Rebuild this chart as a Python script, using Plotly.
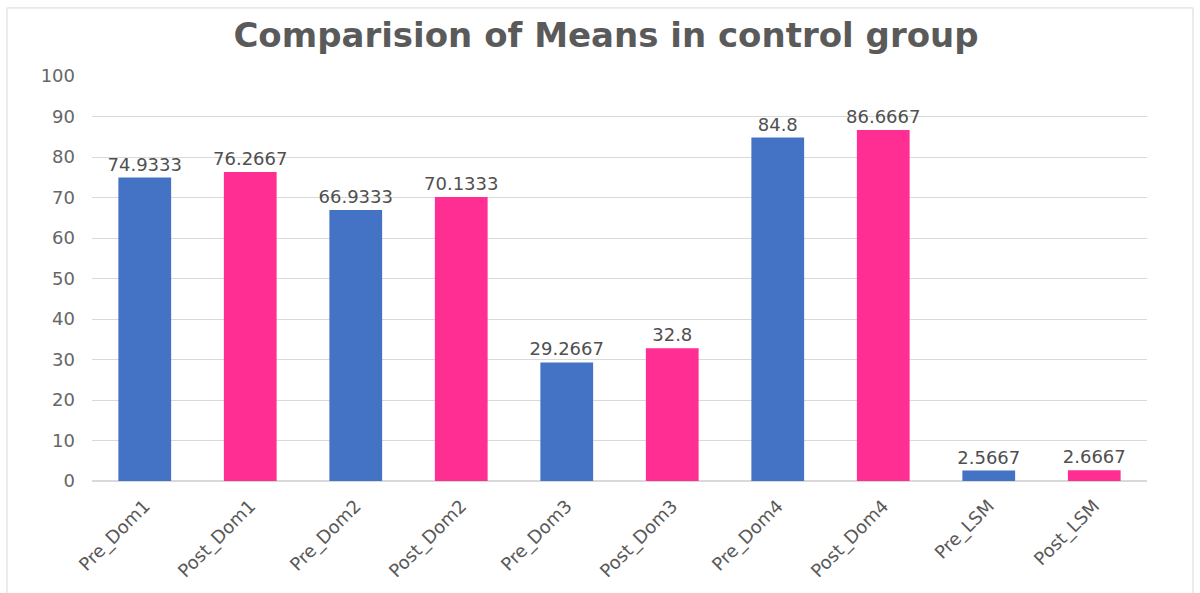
import plotly.graph_objects as go

categories = ["Pre_Dom1", "Post_Dom1", "Pre_Dom2", "Post_Dom2", "Pre_Dom3",
              "Post_Dom3", "Pre_Dom4", "Post_Dom4", "Pre_LSM", "Post_LSM"]
means = [74.9333, 76.2667, 66.9333, 70.1333, 29.2667,
         32.8, 84.8, 86.6667, 2.5667, 2.6667]
y_ticks = [0, 10, 20, 30, 40, 50, 60, 70, 80, 90, 100]

PRE_COLOR = "#4472C4"
POST_COLOR = "#FF2E93"
bar_colors = [PRE_COLOR if c.startswith("Pre") else POST_COLOR for c in categories]

FONT = "DejaVu Sans"
LABEL_SIZE = 18

fig = go.Figure(
    go.Bar(
        x=categories,
        y=means,
        marker=dict(color=bar_colors, line=dict(width=0)),
        text=[f"{v:g}" for v in means],
        textposition="outside",
        textfont=dict(family=FONT, size=LABEL_SIZE, color="#505050"),
        cliponaxis=False,
        width=0.5,
    )
)

fig.update_layout(
    width=1200,
    height=593,
    margin=dict(l=92, r=53, t=76, b=112),
    paper_bgcolor="white",
    plot_bgcolor="white",
    showlegend=False,
    uniformtext=dict(minsize=LABEL_SIZE, mode="show"),
    title=dict(
        text="<b>Comparision of Means in control group</b>",
        x=0.505,
        xanchor="center",
        y=0.94,
        yanchor="middle",
        font=dict(family=FONT, size=34, color="#5A5A5A"),
    ),
    xaxis=dict(
        tickangle=-45,
        tickfont=dict(family=FONT, size=18, color="#595959"),
        showgrid=False,
        showline=False,
        ticks="",
        ticklabelstandoff=10,
    ),
    yaxis=dict(
        range=[0, 100],
        tickvals=y_ticks,
        tickfont=dict(family=FONT, size=18, color="#666666"),
        showgrid=True,
        gridcolor="#D9D9D9",
        gridwidth=1,
        zeroline=True,
        zerolinecolor="#D9D9D9",
        showline=False,
        ticks="",
        ticklabelstandoff=16,
    ),
    shapes=[
        dict(
            type="rect",
            xref="paper",
            yref="paper",
            x0=-0.0806,
            x1=1.0436,
            y0=-0.40,
            y1=1.168,
            line=dict(color="#D9D9D9", width=1),
            fillcolor="rgba(0,0,0,0)",
            layer="below",
        )
    ],
)

fig.write_html("out.html")
